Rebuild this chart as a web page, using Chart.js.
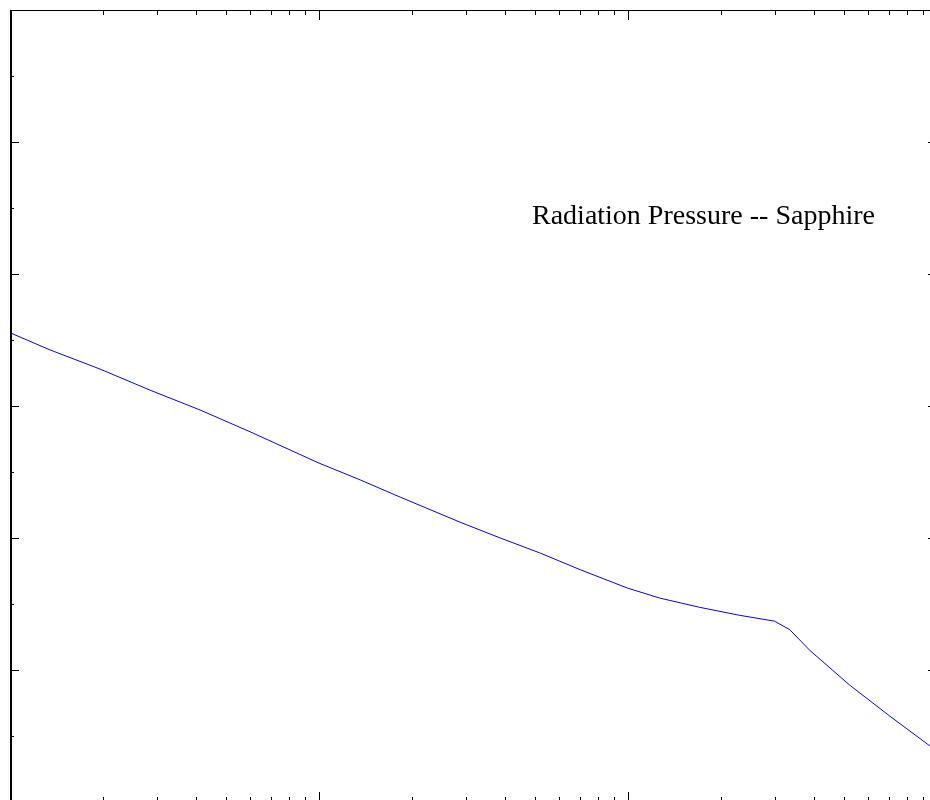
<!DOCTYPE html>
<html>
<head>
<meta charset="utf-8">
<script src="https://cdn.jsdelivr.net/npm/chart.js@4/dist/chart.umd.min.js"></script>
<style>
  html, body { margin: 0; padding: 0; background: #fff; overflow: hidden; }
  #wrap { position: relative; width: 950px; height: 830px; }
  #label { position: absolute; left: 532px; top: 199px; font-family: "Liberation Serif", "Times New Roman", serif; font-size: 28px; line-height: 32px; color: #000; white-space: nowrap; }
</style>
</head>
<body>
<div id="wrap">
  <canvas id="c" width="950" height="830"></canvas>
  <div id="label">Radiation Pressure -- Sapphire</div>
</div>
<script>
// Data (arbitrary units: log x, linear y)
const freq = [1, 1.347, 1.955, 2.84, 4.12, 5.98, 9.94, 13.6, 18.3, 28.6, 38.6, 52.1, 70.0, 99.8, 126.6, 170.5, 229, 298, 334, 387, 522, 704, 948, 1000];
const pressure = [7.11, 6.85, 6.56, 6.24, 5.94, 5.61, 5.14, 4.88, 4.62, 4.24, 4.00, 3.77, 3.52, 3.24, 3.09, 2.95, 2.83, 2.74, 2.61, 2.30, 1.77, 1.30, 0.85, 0.79];

const xMajorTicks = [1, 10, 100, 1000];
const xMinorTicks = [2,3,4,5,6,7,8,9,20,30,40,50,60,70,80,90,200,300,400,500,600,700,800,900];
const yMajorTicks = [0, 2, 4, 6, 8, 10, 12];
const yMinorTicks = [1, 3, 5, 7, 9, 11];

const points = freq.map((f, i) => ({ x: f, y: pressure[i] }));

const frameTicks = {
  id: 'frameTicks',
  afterDraw(chart) {
    const ctx = chart.ctx;
    const a = chart.chartArea;
    const xs = chart.scales.x, ys = chart.scales.y;
    ctx.save();
    ctx.strokeStyle = '#000';
    ctx.lineWidth = 1;
    // frame
    ctx.strokeRect(Math.round(a.left) + 0.5, Math.round(a.top) + 0.5, Math.round(a.right - a.left), Math.round(a.bottom - a.top));
    ctx.beginPath();
    ctx.moveTo(Math.round(a.left) + 1.5, a.top);
    ctx.lineTo(Math.round(a.left) + 1.5, a.bottom);
    ctx.stroke();
    const drawX = (vals, len) => {
      vals.forEach(v => {
        const px = Math.round(xs.getPixelForValue(v)) + 0.5;
        ctx.beginPath();
        ctx.moveTo(px, a.bottom); ctx.lineTo(px, a.bottom - len);
        ctx.moveTo(px, a.top); ctx.lineTo(px, a.top + len);
        ctx.stroke();
      });
    };
    const drawY = (vals, len) => {
      vals.forEach(v => {
        const py = Math.round(ys.getPixelForValue(v)) + 0.5;
        ctx.beginPath();
        ctx.moveTo(a.left, py); ctx.lineTo(a.left + len, py);
        ctx.moveTo(a.right, py); ctx.lineTo(a.right - len, py);
        ctx.stroke();
      });
    };
    drawX(xMajorTicks, 10);
    drawX(xMinorTicks, 5);
    drawY(yMajorTicks, 9);
    drawY(yMinorTicks, 4);
    ctx.restore();
  }
};

new Chart(document.getElementById('c'), {
  type: 'line',
  data: {
    datasets: [{
      data: points,
      borderColor: '#0000ff',
      borderWidth: 1,
      pointRadius: 0,
      tension: 0,
      fill: false
    }]
  },
  options: {
    responsive: false,
    animation: false,
    layout: { padding: { left: 10, top: 10, right: 13, bottom: 28 } },
    plugins: { legend: { display: false }, tooltip: { enabled: false }, title: { display: false } },
    scales: {
      x: { type: 'logarithmic', min: 1, max: 1000, display: false },
      y: { type: 'linear', min: 0, max: 12, display: false }
    }
  },
  plugins: [frameTicks]
});
</script>
</body>
</html>
